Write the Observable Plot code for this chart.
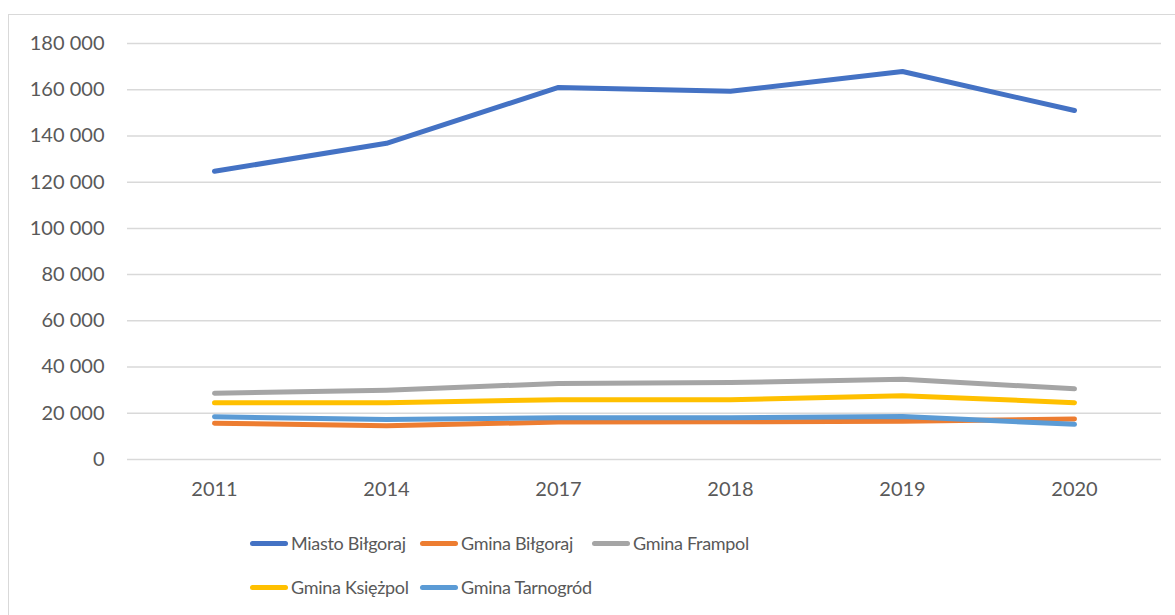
<!DOCTYPE html>
<html>
<head>
<meta charset="utf-8">
<script src="https://cdn.jsdelivr.net/npm/d3@7"></script>
<script src="https://cdn.jsdelivr.net/npm/@observablehq/plot@0.6"></script>
<style>
  html, body { margin: 0; padding: 0; background: #fff; overflow: hidden; }
  #wrap { position: relative; width: 1175px; height: 615px; }
  #frame { position: absolute; left: 8px; top: 14px; width: 1200px; height: 700px; border-left: 1.5px solid #d9d9d9; border-top: 1.5px solid #d9d9d9; }
  #chart { position: absolute; left: 0; top: 0; }
  #legend { position: absolute; left: 250px; top: 527px; display: grid; grid-template-columns: 170px 172px 300px; row-gap: 12px; font-family: Lato, sans-serif; font-size: 18px; letter-spacing: -0.3px; color: #595959; }
  .item { display: flex; align-items: center; height: 32px; white-space: nowrap; }
  .sw { flex: none; width: 38px; height: 5px; border-radius: 3px; margin-right: 3px; }
</style>
</head>
<body>
<div id="wrap">
  <div id="frame"></div>
  <div id="chart"></div>
  <div id="legend"></div>
</div>
<script>
const years = ["2011", "2014", "2017", "2018", "2019", "2020"];
const seriesNames = ["Miasto Biłgoraj", "Gmina Biłgoraj", "Gmina Frampol", "Gmina Księżpol", "Gmina Tarnogród"];
const colors = ["#4472C4", "#ED7D31", "#A5A5A5", "#FFC000", "#5B9BD5"];
const miastoBilgoraj = [124700, 136800, 161000, 159300, 167900, 151000];
const gminaBilgoraj = [15700, 14600, 16200, 16300, 16600, 17500];
const gminaFrampol = [28700, 30000, 32900, 33300, 34700, 30600];
const gminaKsiezpol = [24600, 24600, 25900, 25800, 27600, 24600];
const gminaTarnogrod = [18500, 17300, 18100, 18100, 18600, 15200];
const yTicks = [0, 20000, 40000, 60000, 80000, 100000, 120000, 140000, 160000, 180000];

const allSeries = [miastoBilgoraj, gminaBilgoraj, gminaFrampol, gminaKsiezpol, gminaTarnogrod];
const data = [];
allSeries.forEach((vals, i) => vals.forEach((v, j) => data.push({series: seriesNames[i], year: years[j], value: v})));

const fmt = d => d3.format(",")(d).replace(/,/g, " ");

const chart = Plot.plot({
  width: 1175,
  height: 520,
  marginLeft: 127,
  marginRight: 14,
  marginTop: 43,
  marginBottom: 61,
  style: { fontFamily: "Lato, sans-serif", fontSize: "20px", color: "#595959", background: "transparent" },
  x: { type: "point", domain: years, padding: 0.5, label: null },
  y: { domain: [0, 180000], ticks: yTicks, label: null },
  color: { domain: seriesNames, range: colors },
  marks: [
    Plot.ruleY(yTicks, { stroke: "#d9d9d9", strokeWidth: 1.5 }),
    Plot.axisX({ tickSize: 0, tickPadding: 22, label: null, fill: "#595959" }),
    Plot.axisY({ ticks: yTicks, tickSize: 0, tickPadding: 23, tickFormat: fmt, label: null, fill: "#595959" }),
    Plot.line(data, { x: "year", y: "value", z: "series", stroke: "series", strokeWidth: 5, strokeLinecap: "round", strokeLinejoin: "round" })
  ]
});
document.getElementById("chart").appendChild(chart);

const legend = document.getElementById("legend");
seriesNames.forEach((name, i) => {
  const item = document.createElement("div");
  item.className = "item";
  const sw = document.createElement("span");
  sw.className = "sw";
  sw.style.background = colors[i];
  const t = document.createElement("span");
  t.textContent = name;
  item.appendChild(sw);
  item.appendChild(t);
  legend.appendChild(item);
});
</script>
</body>
</html>
